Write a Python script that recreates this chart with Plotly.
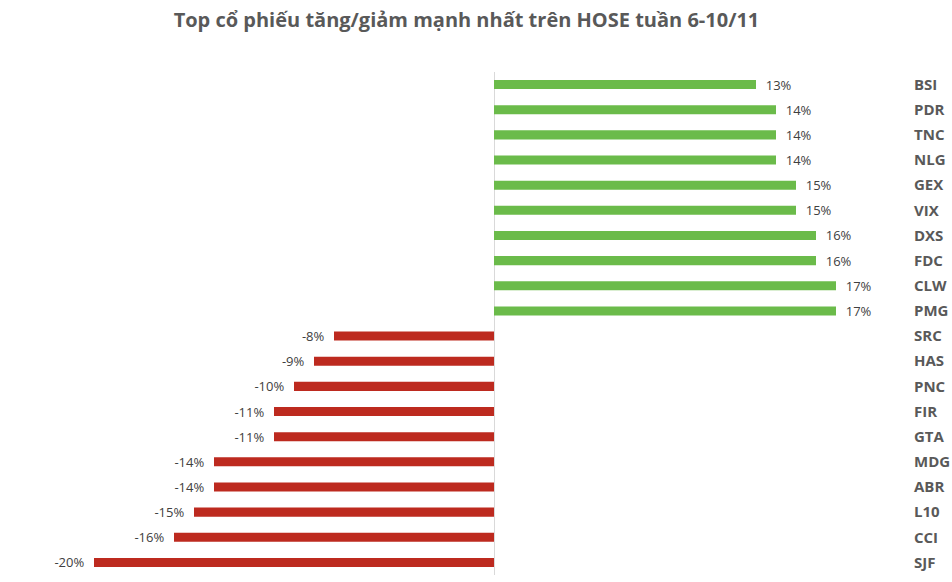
import plotly.graph_objects as go

categories = ["BSI", "PDR", "TNC", "NLG", "GEX", "VIX", "DXS", "FDC", "CLW", "PMG",
              "SRC", "HAS", "PNC", "FIR", "GTA", "MDG", "ABR", "L10", "CCI", "SJF"]
values = [13.1, 14.1, 14.1, 14.1, 15.1, 15.1, 16.1, 16.1, 17.1, 17.1,
          -8, -9, -10, -11, -11, -14, -14, -15, -16, -20]
labels = ["13%", "14%", "14%", "14%", "15%", "15%", "16%", "16%", "17%", "17%",
          "-8%", "-9%", "-10%", "-11%", "-11%", "-14%", "-14%", "-15%", "-16%", "-20%"]

GREEN = "#6BBB4A"
RED = "#BD2A1F"
colors = [GREEN if v >= 0 else RED for v in values]
NB = "\u00a0\u00a0"
padded = [NB + t if v >= 0 else t + NB for t, v in zip(labels, values)]

fig = go.Figure(go.Bar(
    x=values, y=categories, orientation="h",
    marker=dict(color=colors, line=dict(width=0)),
    text=padded, textposition="outside", cliponaxis=False, constraintext="none",
    textfont=dict(family="Open Sans", size=13, color="#404040"),
    width=0.36, hoverinfo="skip",
))

fig.update_layout(
    width=952, height=582,
    paper_bgcolor="white", plot_bgcolor="white",
    margin=dict(l=84, r=48, t=72, b=7),
    title=dict(text="<b>Top cổ phiếu tăng/giảm mạnh nhất trên HOSE tuần 6-10/11</b>",
               x=0.49, xanchor="center", y=0.965, yanchor="middle",
               font=dict(family="Open Sans", size=20, color="#595959")),
    showlegend=False,
    xaxis=dict(range=[-20.5, 20.5], showgrid=False, zeroline=True,
               zerolinecolor="#D9D9D9", zerolinewidth=1,
               showticklabels=False, ticks=""),
    yaxis=dict(autorange="reversed", side="right", showgrid=False,
               showline=False, ticks="", ticklabelstandoff=9, automargin=False,
               tickfont=dict(family="Open Sans", size=15, color="#595959", weight="bold")),
)

fig.write_html("out.html", config={"displayModeBar": False},
               post_script="document.body.style.margin='0';")
